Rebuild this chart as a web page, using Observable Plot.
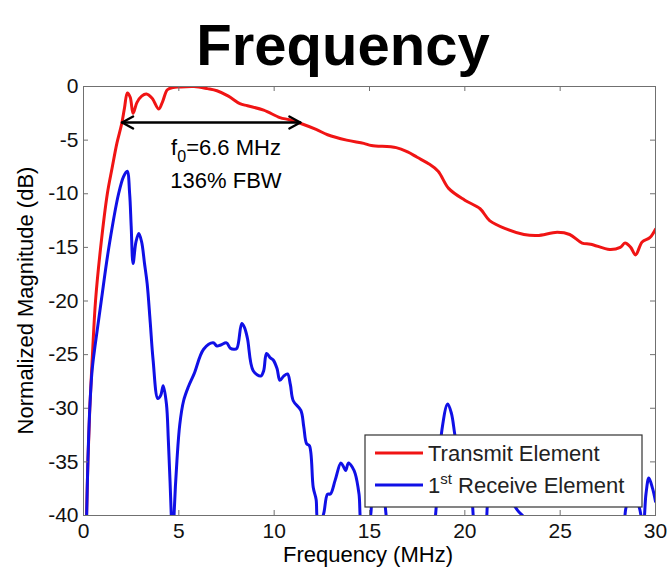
<!DOCTYPE html>
<html><head><meta charset="utf-8">
<script src="https://cdn.jsdelivr.net/npm/d3@7"></script>
<script src="https://cdn.jsdelivr.net/npm/@observablehq/plot@0.6"></script>
<style>body{margin:0;background:#fff}</style>
</head><body><div id="chart"></div>
<script>
// ---- data ----
const txFreq = [0.1,0.16,0.23,0.33,0.47,0.63,0.9,1.25,1.5,1.75,2.0,2.15,2.3,2.45,2.6,2.8,3.05,3.3,3.6,3.95,4.15,4.4,4.7,5.0,5.8,6.5,7.0,7.6,8.2,8.6,9.45,10.3,10.8,11.4,12.2,12.8,13.8,14.7,15.1,16.4,17.0,17.5,18.1,18.6,19.15,20.0,20.8,21.3,22.2,23.1,23.8,24.85,25.5,26.15,26.6,27.6,28.15,28.4,28.7,28.95,29.3,29.7,30.0];
const txMag  = [-45,-40,-35,-30,-25,-20,-15,-10,-7.6,-5.3,-3.5,-2,-0.6,-1,-2.5,-1.5,-0.9,-0.7,-1.1,-2.1,-1.4,-0.3,-0.1,-0.05,0,-0.2,-0.4,-0.9,-1.6,-1.8,-2.2,-2.9,-3.1,-3.45,-4.0,-4.5,-5.0,-5.3,-5.5,-5.7,-6.1,-6.6,-7.2,-7.9,-9.5,-10.6,-11.4,-12.5,-13.3,-13.8,-13.9,-13.6,-13.8,-14.6,-14.7,-15.2,-15.0,-14.6,-15.0,-15.7,-14.5,-14.1,-13.3];
const rxFreq = [0.1,0.16,0.23,0.33,0.45,0.62,0.93,1.33,1.84,2.1,2.29,2.42,2.5,2.6,2.75,2.9,3.05,3.2,3.34,3.5,3.65,3.9,4.05,4.18,4.35,4.45,4.6,4.68,4.75,4.9,5.05,5.25,5.5,5.8,6.3,6.8,7.0,7.2,7.5,7.7,7.9,8.05,8.3,8.45,8.6,8.9,9.3,9.45,9.6,9.8,9.95,10.15,10.3,10.5,10.7,10.85,11.0,11.4,11.55,11.7,11.85,12.05,12.2,12.3,12.45,12.6,12.8,12.95,13.2,13.5,13.65,13.75,13.9,14.1,14.25,14.45,14.6,14.75,15.0,15.2,15.5,15.75,15.95,16.5,18.0,18.4,18.55,18.8,19.1,19.3,19.5,19.8,20.1,20.35,20.5,20.8,21.1,21.25,21.6,22.0,22.4,22.8,23.1,23.5,28.0,28.35,28.5,28.8,29.1,29.35,29.5,29.65,29.85,30.0];
const rxMag  = [-45,-40.5,-35,-30,-26.5,-24,-20,-15,-10,-8.4,-7.9,-10,-13,-16.5,-14.5,-13.7,-14.5,-16.5,-18.4,-22,-25.5,-29.1,-28.8,-27.9,-29.6,-33,-39.8,-45,-40,-34.9,-31.5,-29.3,-28,-26.8,-24.5,-23.9,-24.2,-24.1,-23.9,-24.4,-24.5,-24.4,-22.1,-22.5,-23.5,-26.5,-27,-26.5,-24.9,-25.3,-25.5,-26.3,-27.4,-27,-26.8,-27.8,-29.3,-30.2,-31.7,-33.3,-33.5,-37.4,-38.5,-40.5,-40.5,-39.8,-38,-38,-36.7,-35.1,-35.5,-35.8,-35.1,-35.5,-36.1,-38,-41,-41,-40.5,-37,-36,-38,-41,-45,-45,-41,-38,-32,-29.6,-30.5,-32.7,-35,-36,-38,-41,-43,-41,-38,-36.5,-37,-38.5,-39.6,-40.2,-45,-45,-41,-39,-38.5,-39,-41,-38,-36.5,-37.5,-38.7];
const xTicks = [0,5,10,15,20,25,30];
const yTicks = [0,-5,-10,-15,-20,-25,-30,-35,-40];
const bwEdges = [2.05, 11.4];      // -3 dB band edges (MHz)
const bwLevel = -3.4;              // level of the arrow (dB)
const annotFreq = 7.5;             // centre of annotation text (MHz)
const annotLevels = [-6.4, -9.5];  // baselines of the two annotation lines (dB)
const seriesNames = ["Transmit Element", "Receive Element"];
const titleText = "Frequency";
const xLabel = "Frequency (MHz)";
const yLabel = "Normalized Magnitude (dB)";

const RED = "#f01414", BLUE = "#1010e6", AX = "#707070";
const FONT = "Arial, 'Liberation Sans', Helvetica, sans-serif";

const tx = txFreq.map((f, i) => ({f, m: txMag[i]}));
const rx = rxFreq.map((f, i) => ({f, m: rxMag[i]}));

const W = 669, H = 568, MT = 86, MR = 14, MB = 53, ML = 83;
const innerH = H - MT - MB, innerW = W - ML - MR;

function arrowMark(index, scales, values, dim) {
  const g = d3.create("svg:g").attr("stroke", "#000").attr("fill", "none")
    .attr("stroke-width", 2.4).attr("stroke-linecap", "round").attr("stroke-linejoin", "round");
  const xa = scales.x(bwEdges[0]), xb = scales.x(bwEdges[1]), y = scales.y(bwLevel);
  g.append("line").attr("x1", xa).attr("x2", xb).attr("y1", y).attr("y2", y);
  g.append("path").attr("d", `M${xa + 11},${y - 6}L${xa},${y}L${xa + 11},${y + 6}`);
  g.append("path").attr("d", `M${xb - 11},${y - 6}L${xb},${y}L${xb - 11},${y + 6}`);
  return g.node();
}

function textMark(index, scales, values, dim) {
  const g = d3.create("svg:g").attr("font-family", FONT).attr("fill", "#000").attr("text-anchor", "start");
  // title
  g.append("text").attr("x", 343).attr("y", 65).attr("text-anchor", "middle")
    .attr("font-size", 58).attr("font-weight", "bold").text(titleText);
  // x label
  g.append("text").attr("x", (dim.marginLeft + dim.width - dim.marginRight) / 2 - 1)
    .attr("y", dim.height - 6).attr("text-anchor", "middle").attr("font-size", 22).text(xLabel);
  // y label
  const cy = (dim.marginTop + dim.height - dim.marginBottom) / 2;
  g.append("text").attr("transform", `translate(33,${cy}) rotate(-90)`)
    .attr("text-anchor", "middle").attr("font-size", 22).text(yLabel);
  // annotation
  const ax = scales.x(annotFreq);
  const t1 = g.append("text").attr("x", ax).attr("y", scales.y(annotLevels[0]))
    .attr("text-anchor", "middle").attr("font-size", 22);
  t1.append("tspan").text("f");
  t1.append("tspan").attr("dy", 7).attr("font-size", 16).text("0");
  t1.append("tspan").attr("dy", -7).text("=6.6 MHz");
  g.append("text").attr("x", ax).attr("y", scales.y(annotLevels[1]))
    .attr("text-anchor", "middle").attr("font-size", 22).text("136% FBW");
  // legend
  const lw = 277, lh = 72;
  const x0 = dim.width - dim.marginRight - 13 - lw;
  const y0 = dim.height - dim.marginBottom - 8 - lh;
  g.append("rect").attr("x", x0).attr("y", y0).attr("width", lw).attr("height", lh)
    .attr("fill", "#fff").attr("stroke", "#333").attr("stroke-width", 1.2);
  const colors = [RED, BLUE];
  seriesNames.forEach((name, i) => {
    const yy = y0 + 18 + i * 32;
    g.append("line").attr("x1", x0 + 10).attr("x2", x0 + 58).attr("y1", yy).attr("y2", yy)
      .attr("stroke", colors[i]).attr("stroke-width", 3);
    const t = g.append("text").attr("x", x0 + 63).attr("y", yy + 8).attr("font-size", 22)
      .attr("fill", "#222").attr("text-anchor", "start");
    if (i === 1) {
      t.append("tspan").text("1");
      t.append("tspan").attr("dy", -9).attr("font-size", 15).text("st");
      t.append("tspan").attr("dy", 9).text(" " + name);
    } else {
      t.text(name);
    }
  });
  return g.node();
}

const chart = Plot.plot({
  width: W, height: H,
  marginTop: MT, marginRight: MR, marginBottom: MB, marginLeft: ML,
  style: {fontFamily: FONT, fontSize: "21px", background: "#fff", color: "#000"},
  x: {domain: [0, 30]},
  y: {domain: [-40, 0]},
  marks: [
    Plot.line(tx, {x: "f", y: "m", stroke: RED, strokeWidth: 3, curve: "catmull-rom", clip: true}),
    Plot.line(rx, {x: "f", y: "m", stroke: BLUE, strokeWidth: 3, curve: "catmull-rom", clip: true}),
    arrowMark,
    Plot.frame({stroke: AX, strokeWidth: 1}),
    Plot.tickX(xTicks, {x: d => d, stroke: AX, insetTop: innerH - 5}),
    Plot.tickX(xTicks, {x: d => d, stroke: AX, insetBottom: innerH - 5}),
    Plot.tickY(yTicks, {y: d => d, stroke: AX, insetRight: innerW - 5}),
    Plot.tickY(yTicks, {y: d => d, stroke: AX, insetLeft: innerW - 5}),
    Plot.axisX({ticks: xTicks, tickSize: 0, tickPadding: 8, tickFormat: d => String(d), label: null, fill: "#111"}),
    Plot.axisY({ticks: yTicks, tickSize: 0, tickPadding: 5, tickFormat: d => String(d), label: null, fill: "#111"}),
    textMark
  ]
});
document.getElementById("chart").append(chart);
</script>
</body></html>
